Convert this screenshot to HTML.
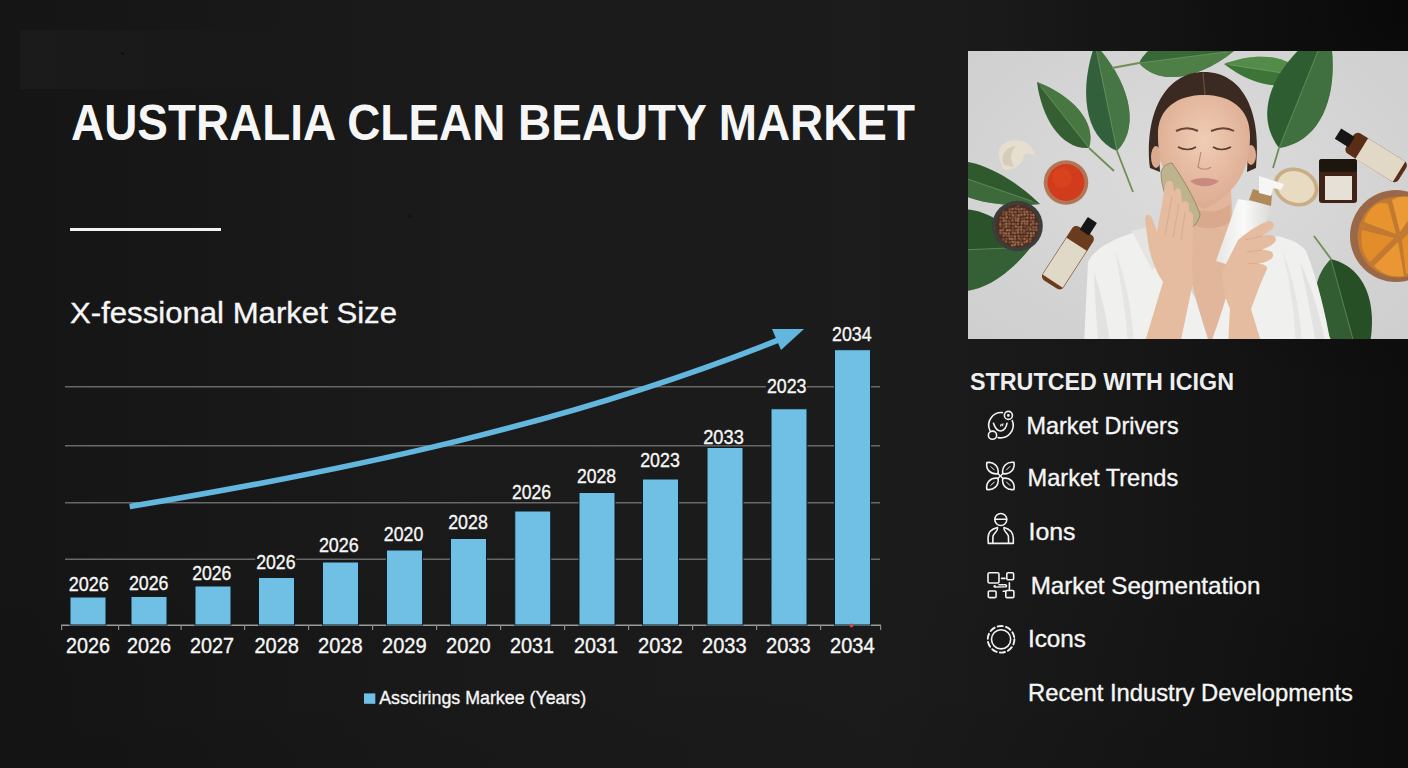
<!DOCTYPE html>
<html><head><meta charset="utf-8">
<style>
html,body{margin:0;padding:0;width:1408px;height:768px;overflow:hidden;background:#141414;}
svg{display:block;}
text{font-family:"Liberation Sans",sans-serif;fill:#f6f6f6;stroke:#f6f6f6;stroke-width:0.35px;}
.b{stroke-width:0;}
.halo text{stroke:#171717;stroke-width:3px;fill:#171717;}
.b{font-weight:bold;}
</style></head>
<body>
<svg width="1408" height="768" viewBox="0 0 1408 768">
<defs>
<linearGradient id="bg" x1="0" y1="0" x2="1408" y2="0" gradientUnits="userSpaceOnUse">
<stop offset="0" stop-color="#151515"/>
<stop offset="0.3" stop-color="#1a1a1a"/>
<stop offset="0.62" stop-color="#1c1c1c"/>
<stop offset="0.8" stop-color="#171717"/>
<stop offset="1" stop-color="#0e0e0e"/>
</linearGradient>
<radialGradient id="bgtr" cx="1408" cy="0" r="420" gradientUnits="userSpaceOnUse">
<stop offset="0" stop-color="#000" stop-opacity="0.35"/>
<stop offset="1" stop-color="#000" stop-opacity="0"/>
</radialGradient>
<linearGradient id="bgv" x1="0" y1="0" x2="0" y2="1">
<stop offset="0" stop-color="#000" stop-opacity="0"/>
<stop offset="0.7" stop-color="#000" stop-opacity="0"/>
<stop offset="1" stop-color="#000" stop-opacity="0.08"/>
</linearGradient>
</defs>
<rect x="0" y="0" width="1408" height="768" fill="url(#bg)"/>
<rect x="0" y="0" width="1408" height="768" fill="url(#bgv)"/>
<rect x="0" y="0" width="1408" height="768" fill="url(#bgtr)"/>
<linearGradient id="tlr" x1="0" y1="0" x2="1" y2="0"><stop offset="0" stop-color="#1e1e1e" stop-opacity="0.6"/><stop offset="1" stop-color="#1e1e1e" stop-opacity="0"/></linearGradient>
<rect x="20" y="30" width="290" height="59" fill="url(#tlr)"/>

<!-- Title -->
<text class="b" x="71" y="139.5" font-size="50" textLength="844" lengthAdjust="spacingAndGlyphs">AUSTRALIA CLEAN BEAUTY MARKET</text>
<rect x="70" y="228" width="151" height="3" fill="#f2f2f2"/>
<text x="70" y="323" font-size="30" textLength="327" lengthAdjust="spacingAndGlyphs">X-fessional Market Size</text>

<!-- Grid -->
<g fill="#686868">
<rect x="65" y="386" width="815" height="1.5"/>
<rect x="65" y="445" width="815" height="1.5"/>
<rect x="65" y="502" width="815" height="1.5"/>
<rect x="65" y="558.5" width="815" height="1.5"/>
</g>

<!-- Axis -->
<rect x="61" y="624.5" width="820" height="1.5" fill="#9a9a9a"/>
<g fill="#8a8a8a">
<rect x="61" y="625" width="1.2" height="5"/><rect x="118" y="625" width="1.2" height="5"/><rect x="180.5" y="625" width="1.2" height="5"/><rect x="244" y="625" width="1.2" height="5"/><rect x="308" y="625" width="1.2" height="5"/><rect x="372" y="625" width="1.2" height="5"/><rect x="436" y="625" width="1.2" height="5"/><rect x="500" y="625" width="1.2" height="5"/><rect x="564" y="625" width="1.2" height="5"/><rect x="628" y="625" width="1.2" height="5"/><rect x="692" y="625" width="1.2" height="5"/><rect x="756" y="625" width="1.2" height="5"/><rect x="820" y="625" width="1.2" height="5"/><rect x="880" y="625" width="1.2" height="5"/>
</g>

<!-- Bars -->
<g fill="#6fc0e4" stroke="#0f1b21" stroke-width="1">
<rect x="70" y="597" width="36" height="28"/>
<rect x="131" y="596.5" width="36" height="28.5"/>
<rect x="195" y="586" width="36" height="39"/>
<rect x="258.5" y="577.5" width="36" height="47.5"/>
<rect x="322.5" y="562" width="36" height="63"/>
<rect x="386.5" y="550" width="36" height="75"/>
<rect x="450.5" y="538.5" width="36" height="86.5"/>
<rect x="514.75" y="511" width="36" height="114"/>
<rect x="579" y="492.5" width="36" height="132.5"/>
<rect x="642.5" y="479" width="36" height="146"/>
<rect x="707" y="447.5" width="36" height="177.5"/>
<rect x="771" y="408.75" width="36" height="216.25"/>
<rect x="834.5" y="349.7" width="36" height="275.3"/>
</g>
<!-- Arrow -->
<path d="M129.7,506.6 C349.8,469.9 569.7,423.5 777.5,340.3" fill="none" stroke="#63b7de" stroke-width="5.6"/>
<polygon points="772,329 804,329 781,350" fill="#63b7de"/>

<!-- Bar labels -->
<g fill="url(#bg)"><rect x="67.7" y="574.0" width="41" height="18"/><rect x="127.9" y="573.5" width="41" height="18"/><rect x="191.2" y="563.2" width="41" height="18"/><rect x="255.2" y="552.2" width="41" height="18"/><rect x="317.9" y="535.1" width="41" height="18"/><rect x="382.8" y="524.8" width="41" height="18"/><rect x="447.2" y="512.2" width="41" height="18"/><rect x="511.0" y="482.2" width="41" height="18"/><rect x="576.0" y="466.3" width="41" height="18"/><rect x="639.2" y="450.5" width="41" height="18"/><rect x="702.2" y="427.2" width="41" height="18"/><rect x="765.9" y="376.3" width="41" height="18"/><rect x="831.0" y="324.8" width="41" height="18"/></g>
<g font-size="20">
<text x="68.7" y="590.5" textLength="40.1" lengthAdjust="spacingAndGlyphs">2026</text>
<text x="128.9" y="590" textLength="39.6" lengthAdjust="spacingAndGlyphs">2026</text>
<text x="192.2" y="579.7" textLength="39.2" lengthAdjust="spacingAndGlyphs">2026</text>
<text x="256.2" y="568.7" textLength="39.3" lengthAdjust="spacingAndGlyphs">2026</text>
<text x="318.9" y="551.6" textLength="39.9" lengthAdjust="spacingAndGlyphs">2026</text>
<text x="383.8" y="541.3" textLength="39.5" lengthAdjust="spacingAndGlyphs">2020</text>
<text x="448.2" y="528.7" textLength="39.6" lengthAdjust="spacingAndGlyphs">2028</text>
<text x="512.0" y="498.7" textLength="39.1" lengthAdjust="spacingAndGlyphs">2026</text>
<text x="577.0" y="482.8" textLength="39.1" lengthAdjust="spacingAndGlyphs">2028</text>
<text x="640.2" y="467" textLength="39.6" lengthAdjust="spacingAndGlyphs">2023</text>
<text x="703.2" y="443.7" textLength="40.6" lengthAdjust="spacingAndGlyphs">2033</text>
<text x="766.9" y="392.8" textLength="39.6" lengthAdjust="spacingAndGlyphs">2023</text>
<text x="832.0" y="341.3" textLength="39.6" lengthAdjust="spacingAndGlyphs">2034</text>
</g>
<!-- Axis labels -->
<g font-size="21.5">
<text x="66.0" y="652.7" textLength="44.0" lengthAdjust="spacingAndGlyphs">2026</text>
<text x="127.0" y="652.7" textLength="44.0" lengthAdjust="spacingAndGlyphs">2026</text>
<text x="190.0" y="652.7" textLength="44.0" lengthAdjust="spacingAndGlyphs">2027</text>
<text x="254.4" y="652.7" textLength="44.6" lengthAdjust="spacingAndGlyphs">2028</text>
<text x="318.0" y="652.7" textLength="44.6" lengthAdjust="spacingAndGlyphs">2028</text>
<text x="382.0" y="652.7" textLength="44.6" lengthAdjust="spacingAndGlyphs">2029</text>
<text x="446.0" y="652.7" textLength="44.6" lengthAdjust="spacingAndGlyphs">2020</text>
<text x="510.0" y="652.7" textLength="44.0" lengthAdjust="spacingAndGlyphs">2031</text>
<text x="574.0" y="652.7" textLength="44.0" lengthAdjust="spacingAndGlyphs">2031</text>
<text x="638.0" y="652.7" textLength="44.6" lengthAdjust="spacingAndGlyphs">2032</text>
<text x="702.0" y="652.7" textLength="44.6" lengthAdjust="spacingAndGlyphs">2033</text>
<text x="766.0" y="652.7" textLength="44.6" lengthAdjust="spacingAndGlyphs">2033</text>
<text x="830.0" y="652.7" textLength="44.6" lengthAdjust="spacingAndGlyphs">2034</text>
</g>

<circle cx="851.5" cy="625.5" r="2" fill="#c84848"/>
<circle cx="122.5" cy="53.5" r="1" fill="#050505"/>
<circle cx="409.5" cy="216" r="0.8" fill="#080808"/>
<!-- Legend -->
<rect x="364" y="693.4" width="11.3" height="10.4" fill="#6fc0e4"/>
<text x="379.2" y="704.3" font-size="18.5" textLength="207" lengthAdjust="spacingAndGlyphs">Asscirings Markee (Years)</text>

<!-- PHOTO -->

<defs>
<clipPath id="pc"><rect x="968" y="51" width="440" height="288"/></clipPath>
<filter id="soft" x="-5%" y="-5%" width="110%" height="110%"><feGaussianBlur stdDeviation="0.7"/></filter>
<filter id="shadow" x="-20%" y="-20%" width="140%" height="140%"><feGaussianBlur stdDeviation="2.5"/></filter>
<radialGradient id="pbg" cx="0.5" cy="0.45" r="0.7">
<stop offset="0" stop-color="#dcdcdc"/><stop offset="1" stop-color="#cfcfcf"/>
</radialGradient>
<radialGradient id="skin" cx="0.5" cy="0.4" r="0.6">
<stop offset="0" stop-color="#f0cdb6"/><stop offset="1" stop-color="#dcab90"/>
</radialGradient>
<linearGradient id="bott" x1="0" y1="0" x2="1" y2="0">
<stop offset="0" stop-color="#e6e6e4"/><stop offset="0.5" stop-color="#fafaf8"/><stop offset="1" stop-color="#d8d8d6"/>
</linearGradient>
</defs>
<g clip-path="url(#pc)">
<rect x="968" y="51" width="440" height="288" fill="url(#pbg)"/>
<g filter="url(#soft)">
<path d="M930.0,166.0 C942.6,197.2 993.6,209.2 1040.0,204.0 C1006.7,171.2 959.2,149.2 930.0,166.0 Z" fill="#2f5a2e"/><path d="M930.0,166.0 C942.6,197.2 993.6,209.2 1040.0,204.0 Z" fill="#4a7a45" opacity="0.55"/><path d="M930.0,166.0 L1032.3,201.3" stroke="#8fb07a" stroke-width="0.8" fill="none" opacity="0.6"/>
<path d="M915.0,252.0 C939.7,311.9 991.0,297.1 1031.0,247.0 C986.9,200.6 934.4,190.2 915.0,252.0 Z" fill="#2a522a"/><path d="M915.0,252.0 C939.7,311.9 991.0,297.1 1031.0,247.0 Z" fill="#406e3c" opacity="0.55"/><path d="M915.0,252.0 L1022.9,247.3" stroke="#8fb07a" stroke-width="0.8" fill="none" opacity="0.6"/>
<path d="M1114.0,171.0 L1089.0,148.0" stroke="#6d8f55" stroke-width="1.8" fill="none"/><path d="M1089.0,148.0 C1097.3,121.1 1070.3,94.5 1037.0,82.0 C1041.4,117.3 1060.9,149.8 1089.0,148.0 Z" fill="#355f33"/><path d="M1089.0,148.0 C1097.3,121.1 1070.3,94.5 1037.0,82.0 Z" fill="#5a8a50" opacity="0.55"/><path d="M1089.0,148.0 L1040.6,86.6" stroke="#8fb07a" stroke-width="0.8" fill="none" opacity="0.6"/>
<path d="M1133.0,192.0 L1117.0,151.0" stroke="#6d8f55" stroke-width="1.8" fill="none"/><path d="M1117.0,151.0 C1142.6,124.5 1126.6,77.9 1095.0,44.0 C1079.3,87.7 1083.0,136.8 1117.0,151.0 Z" fill="#33603a"/><path d="M1117.0,151.0 C1142.6,124.5 1126.6,77.9 1095.0,44.0 Z" fill="#55884e" opacity="0.55"/><path d="M1117.0,151.0 L1096.5,51.5" stroke="#8fb07a" stroke-width="0.8" fill="none" opacity="0.6"/>
<path d="M1112.0,68.0 L1139.0,63.0" stroke="#6d8f55" stroke-width="1.8" fill="none"/><path d="M1139.0,63.0 C1160.5,88.1 1202.3,77.0 1234.0,51.0 C1196.8,33.7 1153.6,33.4 1139.0,63.0 Z" fill="#386838"/><path d="M1139.0,63.0 C1160.5,88.1 1202.3,77.0 1234.0,51.0 Z" fill="#5e9252" opacity="0.55"/><path d="M1139.0,63.0 L1227.3,51.8" stroke="#8fb07a" stroke-width="0.8" fill="none" opacity="0.6"/>
<path d="M1302.0,76.0 C1290.3,53.7 1254.7,52.4 1224.0,64.0 C1249.8,84.3 1284.1,93.8 1302.0,76.0 Z" fill="#3e7438"/><path d="M1302.0,76.0 C1290.3,53.7 1254.7,52.4 1224.0,64.0 Z" fill="#64a055" opacity="0.55"/><path d="M1302.0,76.0 L1229.5,64.8" stroke="#8fb07a" stroke-width="0.8" fill="none" opacity="0.6"/>
<path d="M1273.0,168.0 L1279.0,148.0" stroke="#6d8f55" stroke-width="1.8" fill="none"/><path d="M1279.0,148.0 C1327.3,140.5 1341.2,82.7 1328.0,26.0 C1279.3,57.8 1249.3,109.1 1279.0,148.0 Z" fill="#2f5d33"/><path d="M1279.0,148.0 C1327.3,140.5 1341.2,82.7 1328.0,26.0 Z" fill="#4c7e48" opacity="0.55"/><path d="M1279.0,148.0 L1324.6,34.5" stroke="#8fb07a" stroke-width="0.8" fill="none" opacity="0.6"/>
<path d="M1314.0,236.0 L1331.0,259.0" stroke="#6d8f55" stroke-width="1.8" fill="none"/><path d="M1331.0,259.0 C1299.1,290.8 1320.8,339.3 1362.0,372.0 C1380.7,322.8 1374.6,270.1 1331.0,259.0 Z" fill="#284f27"/><path d="M1331.0,259.0 C1299.1,290.8 1320.8,339.3 1362.0,372.0 Z" fill="#3c6a38" opacity="0.55"/><path d="M1331.0,259.0 L1359.8,364.1" stroke="#8fb07a" stroke-width="0.8" fill="none" opacity="0.6"/>
<!-- garlic -->
<path d="M1000,160 C995,145 1008,138 1022,141 C1030,143 1034,150 1035,156 C1030,153 1026,152 1024,156 C1022,166 1012,172 1003,169 Z" fill="#e6dfd0"/>
<path d="M1004,165 C1000,155 1006,147 1016,146 C1010,152 1010,160 1014,167 Z" fill="#cfc4ae" opacity="0.7"/>
<!-- red bowl -->
<circle cx="1066" cy="182.5" r="22.3" fill="#b27656"/>
<circle cx="1066" cy="182.5" r="18.5" fill="#d13c1c"/>
<circle cx="1062" cy="178" r="10" fill="#e04a22" opacity="0.5"/>
<!-- seed bowl -->
<circle cx="1017.5" cy="226" r="25.3" fill="#3c3c3a"/>
<circle cx="1017.5" cy="226" r="21.5" fill="#5e3a28"/>
<circle cx="1017.5" cy="226" r="21.5" fill="#4e2e20"/><circle cx="1000.7" cy="217.9" r="1.3" fill="#7a4a32"/><circle cx="1000.5" cy="221.5" r="1.3" fill="#7a4a32"/><circle cx="1000.3" cy="224.4" r="1.3" fill="#96684a"/><circle cx="1000.8" cy="226.5" r="1.3" fill="#7a4a32"/><circle cx="1000.5" cy="230.5" r="1.3" fill="#96684a"/><circle cx="1000.4" cy="233.1" r="1.3" fill="#8a5a40"/><circle cx="1003.6" cy="212.1" r="1.3" fill="#7a4a32"/><circle cx="1003.0" cy="214.5" r="1.3" fill="#7a4a32"/><circle cx="1003.5" cy="218.2" r="1.3" fill="#8a5a40"/><circle cx="1003.8" cy="220.8" r="1.3" fill="#96684a"/><circle cx="1004.1" cy="224.4" r="1.3" fill="#7a4a32"/><circle cx="1003.8" cy="227.5" r="1.3" fill="#7a4a32"/><circle cx="1002.9" cy="230.0" r="1.3" fill="#8a5a40"/><circle cx="1003.6" cy="233.0" r="1.3" fill="#8a5a40"/><circle cx="1003.8" cy="235.6" r="1.3" fill="#8a5a40"/><circle cx="1003.4" cy="239.5" r="1.3" fill="#7a4a32"/><circle cx="1006.3" cy="212.5" r="1.3" fill="#8a5a40"/><circle cx="1006.1" cy="214.6" r="1.3" fill="#8a5a40"/><circle cx="1006.7" cy="217.4" r="1.3" fill="#96684a"/><circle cx="1006.1" cy="220.7" r="1.3" fill="#8a5a40"/><circle cx="1006.4" cy="223.8" r="1.3" fill="#96684a"/><circle cx="1006.3" cy="226.6" r="1.3" fill="#96684a"/><circle cx="1007.0" cy="230.2" r="1.3" fill="#96684a"/><circle cx="1006.0" cy="233.5" r="1.3" fill="#96684a"/><circle cx="1006.9" cy="235.9" r="1.3" fill="#7a4a32"/><circle cx="1006.4" cy="239.0" r="1.3" fill="#7a4a32"/><circle cx="1006.0" cy="241.5" r="1.3" fill="#8a5a40"/><circle cx="1009.6" cy="209.0" r="1.3" fill="#7a4a32"/><circle cx="1009.6" cy="211.5" r="1.3" fill="#8a5a40"/><circle cx="1009.6" cy="214.6" r="1.3" fill="#7a4a32"/><circle cx="1010.0" cy="218.1" r="1.3" fill="#7a4a32"/><circle cx="1009.0" cy="221.4" r="1.3" fill="#7a4a32"/><circle cx="1009.5" cy="223.8" r="1.3" fill="#8a5a40"/><circle cx="1009.0" cy="226.8" r="1.3" fill="#7a4a32"/><circle cx="1009.5" cy="230.2" r="1.3" fill="#96684a"/><circle cx="1008.9" cy="233.5" r="1.3" fill="#96684a"/><circle cx="1009.3" cy="236.2" r="1.3" fill="#8a5a40"/><circle cx="1009.8" cy="238.8" r="1.3" fill="#96684a"/><circle cx="1009.9" cy="242.2" r="1.3" fill="#7a4a32"/><circle cx="1012.5" cy="209.0" r="1.3" fill="#96684a"/><circle cx="1012.2" cy="212.4" r="1.3" fill="#8a5a40"/><circle cx="1012.9" cy="215.4" r="1.3" fill="#96684a"/><circle cx="1012.9" cy="217.6" r="1.3" fill="#7a4a32"/><circle cx="1012.3" cy="220.4" r="1.3" fill="#8a5a40"/><circle cx="1012.8" cy="224.0" r="1.3" fill="#8a5a40"/><circle cx="1012.7" cy="227.5" r="1.3" fill="#7a4a32"/><circle cx="1012.9" cy="230.3" r="1.3" fill="#7a4a32"/><circle cx="1013.0" cy="232.8" r="1.3" fill="#8a5a40"/><circle cx="1012.0" cy="236.0" r="1.3" fill="#7a4a32"/><circle cx="1012.1" cy="239.1" r="1.3" fill="#96684a"/><circle cx="1012.9" cy="242.0" r="1.3" fill="#96684a"/><circle cx="1012.3" cy="245.2" r="1.3" fill="#96684a"/><circle cx="1015.8" cy="208.6" r="1.3" fill="#8a5a40"/><circle cx="1015.4" cy="212.2" r="1.3" fill="#8a5a40"/><circle cx="1015.9" cy="215.6" r="1.3" fill="#7a4a32"/><circle cx="1015.5" cy="218.3" r="1.3" fill="#8a5a40"/><circle cx="1015.8" cy="220.6" r="1.3" fill="#8a5a40"/><circle cx="1014.9" cy="224.1" r="1.3" fill="#7a4a32"/><circle cx="1015.9" cy="226.6" r="1.3" fill="#96684a"/><circle cx="1016.1" cy="230.2" r="1.3" fill="#7a4a32"/><circle cx="1015.1" cy="233.1" r="1.3" fill="#8a5a40"/><circle cx="1014.9" cy="236.6" r="1.3" fill="#96684a"/><circle cx="1015.0" cy="239.3" r="1.3" fill="#8a5a40"/><circle cx="1015.4" cy="242.4" r="1.3" fill="#8a5a40"/><circle cx="1014.9" cy="244.7" r="1.3" fill="#96684a"/><circle cx="1018.2" cy="206.1" r="1.3" fill="#7a4a32"/><circle cx="1018.6" cy="209.4" r="1.3" fill="#8a5a40"/><circle cx="1019.0" cy="211.8" r="1.3" fill="#7a4a32"/><circle cx="1018.7" cy="215.4" r="1.3" fill="#96684a"/><circle cx="1018.4" cy="218.5" r="1.3" fill="#96684a"/><circle cx="1018.1" cy="220.6" r="1.3" fill="#96684a"/><circle cx="1017.9" cy="223.9" r="1.3" fill="#8a5a40"/><circle cx="1018.6" cy="227.3" r="1.3" fill="#8a5a40"/><circle cx="1018.1" cy="230.0" r="1.3" fill="#96684a"/><circle cx="1018.0" cy="232.5" r="1.3" fill="#96684a"/><circle cx="1018.5" cy="236.1" r="1.3" fill="#8a5a40"/><circle cx="1019.0" cy="238.5" r="1.3" fill="#8a5a40"/><circle cx="1018.2" cy="242.3" r="1.3" fill="#96684a"/><circle cx="1018.4" cy="244.4" r="1.3" fill="#8a5a40"/><circle cx="1021.5" cy="209.0" r="1.3" fill="#96684a"/><circle cx="1021.2" cy="212.0" r="1.3" fill="#7a4a32"/><circle cx="1021.5" cy="214.7" r="1.3" fill="#96684a"/><circle cx="1022.0" cy="218.5" r="1.3" fill="#7a4a32"/><circle cx="1022.0" cy="221.5" r="1.3" fill="#8a5a40"/><circle cx="1021.9" cy="223.6" r="1.3" fill="#8a5a40"/><circle cx="1021.4" cy="226.8" r="1.3" fill="#96684a"/><circle cx="1021.2" cy="229.5" r="1.3" fill="#96684a"/><circle cx="1021.3" cy="232.5" r="1.3" fill="#8a5a40"/><circle cx="1022.0" cy="236.2" r="1.3" fill="#7a4a32"/><circle cx="1021.1" cy="239.5" r="1.3" fill="#7a4a32"/><circle cx="1021.2" cy="242.5" r="1.3" fill="#7a4a32"/><circle cx="1022.0" cy="244.6" r="1.3" fill="#96684a"/><circle cx="1024.4" cy="209.0" r="1.3" fill="#7a4a32"/><circle cx="1024.4" cy="211.8" r="1.3" fill="#8a5a40"/><circle cx="1024.8" cy="214.4" r="1.3" fill="#96684a"/><circle cx="1024.5" cy="218.2" r="1.3" fill="#7a4a32"/><circle cx="1024.3" cy="221.1" r="1.3" fill="#96684a"/><circle cx="1025.1" cy="223.5" r="1.3" fill="#8a5a40"/><circle cx="1025.1" cy="226.5" r="1.3" fill="#7a4a32"/><circle cx="1024.2" cy="230.5" r="1.3" fill="#8a5a40"/><circle cx="1024.2" cy="232.6" r="1.3" fill="#7a4a32"/><circle cx="1024.9" cy="236.2" r="1.3" fill="#7a4a32"/><circle cx="1024.4" cy="239.0" r="1.3" fill="#96684a"/><circle cx="1024.6" cy="242.2" r="1.3" fill="#8a5a40"/><circle cx="1027.0" cy="211.7" r="1.3" fill="#96684a"/><circle cx="1027.9" cy="214.5" r="1.3" fill="#8a5a40"/><circle cx="1027.4" cy="217.8" r="1.3" fill="#96684a"/><circle cx="1027.4" cy="221.5" r="1.3" fill="#96684a"/><circle cx="1027.1" cy="224.0" r="1.3" fill="#8a5a40"/><circle cx="1028.0" cy="227.6" r="1.3" fill="#7a4a32"/><circle cx="1027.0" cy="229.6" r="1.3" fill="#7a4a32"/><circle cx="1027.7" cy="233.0" r="1.3" fill="#8a5a40"/><circle cx="1027.2" cy="236.0" r="1.3" fill="#8a5a40"/><circle cx="1027.2" cy="239.4" r="1.3" fill="#7a4a32"/><circle cx="1026.9" cy="241.4" r="1.3" fill="#96684a"/><circle cx="1030.4" cy="212.0" r="1.3" fill="#7a4a32"/><circle cx="1031.1" cy="214.8" r="1.3" fill="#8a5a40"/><circle cx="1031.1" cy="217.8" r="1.3" fill="#96684a"/><circle cx="1030.8" cy="220.6" r="1.3" fill="#7a4a32"/><circle cx="1031.1" cy="224.4" r="1.3" fill="#8a5a40"/><circle cx="1030.0" cy="227.3" r="1.3" fill="#7a4a32"/><circle cx="1030.4" cy="229.5" r="1.3" fill="#96684a"/><circle cx="1030.9" cy="233.4" r="1.3" fill="#96684a"/><circle cx="1031.1" cy="236.1" r="1.3" fill="#96684a"/><circle cx="1030.3" cy="239.0" r="1.3" fill="#8a5a40"/><circle cx="1030.2" cy="241.4" r="1.3" fill="#7a4a32"/><circle cx="1033.4" cy="215.0" r="1.3" fill="#96684a"/><circle cx="1033.7" cy="217.7" r="1.3" fill="#8a5a40"/><circle cx="1033.0" cy="221.4" r="1.3" fill="#8a5a40"/><circle cx="1033.4" cy="223.5" r="1.3" fill="#8a5a40"/><circle cx="1033.3" cy="227.2" r="1.3" fill="#8a5a40"/><circle cx="1033.6" cy="230.0" r="1.3" fill="#8a5a40"/><circle cx="1033.7" cy="233.3" r="1.3" fill="#96684a"/><circle cx="1033.4" cy="235.8" r="1.3" fill="#7a4a32"/><circle cx="1036.7" cy="223.7" r="1.3" fill="#8a5a40"/><circle cx="1036.0" cy="227.2" r="1.3" fill="#8a5a40"/><circle cx="1036.4" cy="229.9" r="1.3" fill="#8a5a40"/>
<!-- amber bottle -->
<g transform="translate(1069,256) rotate(33)">
<rect x="-12.5" y="-30" width="25" height="64" rx="5" fill="#6a3a1e"/>
<rect x="-12" y="-14" width="24" height="44" fill="#e0d9c8"/>
<rect x="-5.5" y="-43" width="11" height="15" rx="1" fill="#151515"/>
</g>
<!-- ginger slice -->
<ellipse cx="1296" cy="187" rx="23" ry="19" transform="rotate(20 1296 187)" fill="#c9ad84"/>
<ellipse cx="1296" cy="187" rx="19" ry="15.5" transform="rotate(20 1296 187)" fill="#e8dbc2"/>
<!-- jar -->
<rect x="1319" y="159" width="38" height="44" rx="3" fill="#3f2418"/>
<rect x="1319" y="159" width="38" height="13" rx="3" fill="#1a1410"/>
<rect x="1325" y="176" width="27" height="24" fill="#e6e0d6"/>
<!-- dropper bottle -->
<g transform="translate(1377,158) rotate(-58)">
<rect x="-12" y="-32" width="24" height="62" rx="5" fill="#5a2e18"/>
<rect x="-12" y="-18" width="24" height="44" fill="#e2d8c6"/>
<rect x="-6" y="-46" width="12" height="16" fill="#141414"/>
</g>
<!-- orange bowl -->
<circle cx="1396" cy="236" r="46" fill="#9a6848"/>
<circle cx="1398" cy="237" r="40.5" fill="#c27a30"/>
<path d="M1364,222 C1368,208 1378,200 1388,204 L1396,234 Z" fill="#e8942e"/>
<path d="M1392,200 C1402,194 1414,196 1420,204 L1400,232 Z" fill="#ec9a34"/>
<path d="M1362,230 L1394,238 L1370,262 C1362,254 1360,242 1362,230 Z" fill="#e38c2a"/>
<path d="M1374,266 L1398,242 L1404,276 C1392,278 1382,274 1374,266 Z" fill="#ea9632"/>
<path d="M1402,240 L1420,222 L1420,270 L1406,274 Z" fill="#e4902c"/>
<!-- shirt -->
<path d="M1084,345 L1088,262 C1096,247 1115,237 1146,229 L1162,236 L1196,300 L1210,345 Z" fill="#f0f0ee"/>
<path d="M1210,345 L1228,292 L1256,244 L1277,236 C1291,239 1301,244 1306,251 C1318,281 1325,312 1331,345 Z" fill="#f0f0ee"/>
<path d="M1094,272 C1103,300 1108,322 1110,345 L1098,345 C1097,322 1095,300 1094,272 Z" fill="#dedede" opacity="0.8"/>
<path d="M1300,262 C1306,290 1312,318 1316,345 L1326,345 C1320,315 1312,288 1300,262 Z" fill="#dcdcdc" opacity="0.7"/>
<path d="M1132,231 L1149,227 L1163,262 L1152,270 Z" fill="#e4e4e2"/>
<path d="M1115,250 C1120,280 1126,310 1128,345 L1134,345 C1132,310 1126,280 1115,250 Z" fill="#dddddb" opacity="0.6"/>
<path d="M1282,250 C1290,280 1294,310 1296,345 L1302,345 C1300,310 1294,280 1282,250 Z" fill="#dddddb" opacity="0.6"/>
<!-- neck & chest -->
<path d="M1186,190 L1231,190 L1234,250 C1234,272 1226,302 1210,345 C1196,302 1188,272 1186,250 Z" fill="#e2b69b"/>
<path d="M1188,204 C1200,214 1220,214 1230,204 L1230,222 C1218,230 1200,230 1188,222 Z" fill="#cd9b80" opacity="0.5"/>
<!-- hair -->
<path d="M1150,168 C1144,112 1166,72 1204,72 C1243,72 1262,112 1256,168 L1247,172 C1251,128 1236,96 1204,95 C1172,96 1157,128 1160,172 Z" fill="#3a2a22"/>
<path d="M1203,73 L1205,96" stroke="#6b5040" stroke-width="1.2"/>
<!-- ears -->
<ellipse cx="1156" cy="157" rx="5" ry="11" fill="#dcab8f"/>
<ellipse cx="1251" cy="155" rx="5" ry="10" fill="#dcab8f"/>
<!-- face -->
<path d="M1158,136 C1157,108 1178,95 1204,95 C1230,95 1250,108 1250,136 C1250,166 1240,192 1204,209 C1168,193 1158,166 1158,136 Z" fill="url(#skin)"/>
<path d="M1176,131 C1184,127 1192,128 1198,131" stroke="#6a4535" stroke-width="2" fill="none"/>
<path d="M1211,131 C1218,128 1227,127 1234,131" stroke="#6a4535" stroke-width="2" fill="none"/>
<path d="M1178,147 C1184,150 1191,150 1196,147" stroke="#5a3a2c" stroke-width="1.6" fill="none"/>
<path d="M1213,147 C1218,150 1225,150 1231,147" stroke="#5a3a2c" stroke-width="1.6" fill="none"/>
<path d="M1201,152 L1198,167 C1201,170 1208,170 1211,167" stroke="#c08a70" stroke-width="1.2" fill="none"/>
<path d="M1190,181 C1197,177 1210,177 1219,181 C1212,188 1197,188 1190,181 Z" fill="#c98a80"/>
<!-- gua sha -->
<path d="M1161,172 C1163,166 1168,163 1172,163 C1184,180 1194,198 1200,214 C1199,220 1196,225 1192,227 C1184,224 1176,218 1170,208 C1165,196 1161,184 1161,172 Z" fill="#bdb48e" stroke="#8a8060" stroke-width="0.8"/>
<!-- left hand & forearm -->
<path d="M1144,345 L1163,282 C1155,270 1150,256 1148,242 L1145,220 C1145,214 1150,213 1152,218 L1157,232 L1165,186 C1166,180 1172,179 1173,184 L1174,192 C1176,187 1181,187 1181,192 L1182,203 C1184,200 1189,201 1189,206 L1189,212 C1191,211 1194,214 1193,218 L1192,272 L1193,282 L1180,345 Z" fill="#e6bca1"/>
<path d="M1165,236 L1172,196 M1173,238 L1179,204 M1181,240 L1185,212" stroke="#cf9f84" stroke-width="0.9" opacity="0.7"/>
<!-- white bottle -->
<path d="M1238,199 L1272,205 L1249,271 L1216,261 Z" fill="url(#bott)"/>
<path d="M1253,189 L1272,195 L1271,206 L1249,200 Z" fill="#b08a58"/>
<path d="M1259,176 L1284,184 L1281,190 L1273,188 L1271,196 L1259,193 Z" fill="#f6f6f4"/>
<!-- right hand & forearm -->
<path d="M1228,345 L1230,309 C1224,295 1221,282 1223,270 L1238,240 C1250,230 1262,222 1270,221 C1274,222 1275,226 1272,229 L1262,236 C1270,234 1276,235 1276,240 C1275,244 1270,246 1262,250 C1270,250 1274,252 1273,256 C1272,260 1266,262 1258,264 C1264,264 1268,266 1267,269 L1260,285 L1251,309 L1262,345 Z" fill="#e6bca1"/>
<path d="M1245,240 L1262,236 M1247,252 L1262,250 M1248,263 L1258,264" stroke="#cf9f84" stroke-width="0.9" opacity="0.7"/>

</g>
</g>



<!-- Icons -->
<g fill="none" stroke="#f2f2f2" stroke-width="1.6" stroke-linecap="round" stroke-linejoin="round">
<path d="M1002.4,412.6 A12.6,12.6 0 0 0 989.9,430.5"/>
<path d="M1012.3,420.6 A12.6,12.6 0 0 1 998.2,437.6"/>
<circle cx="1008.4" cy="415.4" r="4"/>
<circle cx="1008.4" cy="415.4" r="0.6"/>
<circle cx="992.5" cy="435.2" r="4.1"/>
<path d="M993.5,423.2 C995,428 998,431 1000.8,431 C1004,431 1006.5,427 1007,423.2"/>
<path d="M1000.6,426 L1001.2,424.3 M1002.4,425.6 L1003,423.9" stroke-width="1.2"/>

<path d="M998.1,473.7 C999.1,466.0 993.5,461.4 986.8,462.6 C985.7,469.4 990.4,474.8 998.1,473.7 Z"/>
<path d="M994.3,470.0 L990.9,466.6" stroke-width="1"/>
<path d="M1002.7,473.7 C1010.5,474.7 1015.1,469.2 1014.0,462.4 C1007.2,461.3 1001.7,465.9 1002.7,473.7 Z"/>
<path d="M1006.5,469.9 L1009.9,466.5" stroke-width="1"/>
<path d="M998.1,478.3 C990.4,477.2 985.7,482.6 986.8,489.4 C993.5,490.6 999.1,486.0 998.1,478.3 Z"/>
<path d="M994.3,482.0 L990.9,485.4" stroke-width="1"/>
<path d="M1002.7,478.3 C1001.7,486.0 1007.3,490.6 1014.0,489.4 C1015.1,482.6 1010.4,477.2 1002.7,478.3 Z"/>
<path d="M1006.5,482.0 L1009.9,485.4" stroke-width="1"/>
<path d="M997.6,473.2 L1003.2,478.8 M1003.2,473.2 L997.6,478.8" stroke-width="1.4"/>

<circle cx="1000.8" cy="519.5" r="6"/>
<path d="M995,519.2 L1006.5,519.2"/>
<path d="M997.5,527.5 C991,529 988,533 988,538 L988.3,543.4 L1013.3,543.4 L1013.3,538 C1013,533 1010,529 1004,527.5"/>
<path d="M997.5,528.5 C998,531 994,533 993,536 L992.8,542.4 M1004,528.5 C1003.5,531 1007.5,533 1008.4,536 L1008.6,542.4"/>

<rect x="988" y="572.8" width="11" height="10.2" rx="1.5"/>
<rect x="1006.8" y="572.8" width="6.8" height="7" rx="1.2"/>
<path d="M1001.6,578.4 L1005,578.4"/>
<path d="M999,584.8 L1005.5,584.8 C1006.8,585.2 1006.8,586.6 1005.5,586.8 L995,587 C993.8,587 993.8,586 995,585.8"/>
<path d="M1009.4,582.7 L1009.4,589.5"/>
<rect x="988.3" y="591" width="7.8" height="6.6" rx="1"/>
<rect x="1005.8" y="590.5" width="8.1" height="7.1" rx="1.2"/>
<path d="M1003.2,591.3 L1005.5,591.3"/>

<circle cx="1001.1" cy="639.3" r="9.6"/>
<circle cx="1001.1" cy="639.3" r="13.3" stroke-width="1.9" stroke-dasharray="5.2 3.2"/>
</g>

<!-- Right list -->
<text x="970" y="390.3" font-size="24.5" textLength="264" lengthAdjust="spacingAndGlyphs" style="font-weight:bold;stroke-width:0" opacity="0.97">STRUTCED WITH ICIGN</text>
<g font-size="24">
<text x="1026.6" y="433.6" textLength="152" lengthAdjust="spacingAndGlyphs">Market Drivers</text>
<text x="1027.6" y="486" textLength="150.6" lengthAdjust="spacingAndGlyphs">Market Trends</text>
<text x="1028.5" y="539.8" textLength="47" lengthAdjust="spacingAndGlyphs">Ions</text>
<text x="1030.7" y="593.6" textLength="229.8" lengthAdjust="spacingAndGlyphs">Market Segmentation</text>
<text x="1028" y="646.6" textLength="58" lengthAdjust="spacingAndGlyphs">Icons</text>
<text x="1028" y="701.4" textLength="325" lengthAdjust="spacingAndGlyphs">Recent Industry Developments</text>
</g>

</svg>
</body></html>
